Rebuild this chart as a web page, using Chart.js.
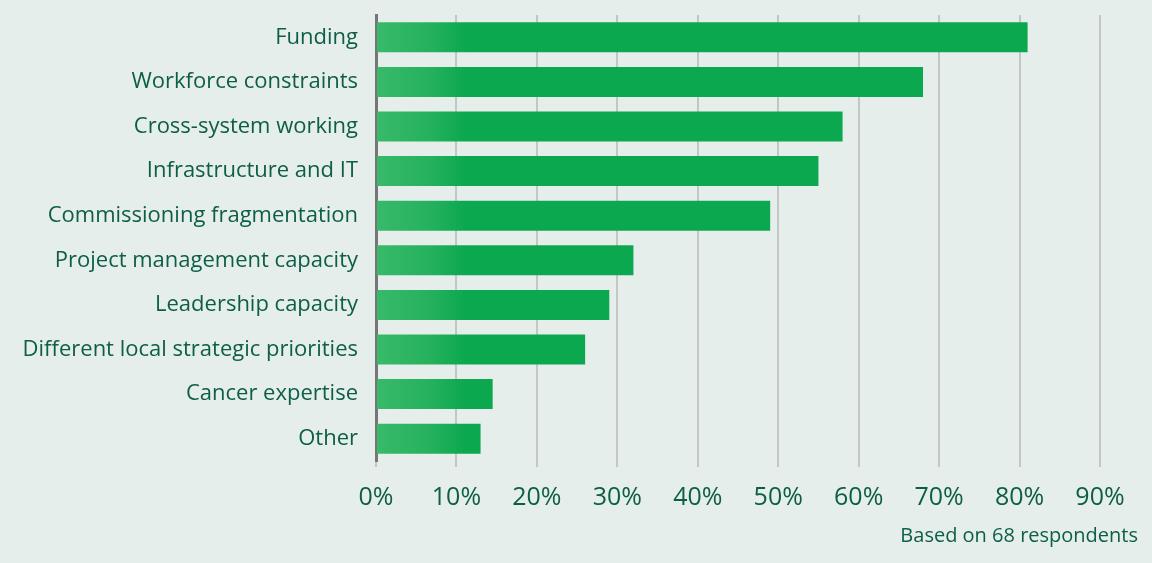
<!DOCTYPE html>
<html>
<head>
<meta charset="utf-8">
<script src="https://cdn.jsdelivr.net/npm/chart.js@4"></script>
<style>
  html, body { margin: 0; padding: 0; background: #e6eeeb; }
  #wrap { width: 1152px; height: 563px; position: relative; }
</style>
</head>
<body>
<div id="wrap"><canvas id="barriers"></canvas></div>
<script>
const categories = [
  'Funding',
  'Workforce constraints',
  'Cross-system working',
  'Infrastructure and IT',
  'Commissioning fragmentation',
  'Project management capacity',
  'Leadership capacity',
  'Different local strategic priorities',
  'Cancer expertise',
  'Other',
];
const shares = [81, 68, 58, 55, 49, 32, 29, 26, 14.5, 13];
const tickValues = [0, 10, 20, 30, 40, 50, 60, 70, 80, 90];
const footnote = 'Based on 68 respondents';

const textColor = '#0d5e47';
const fontFamily = '"Open Sans", Lato, sans-serif';

// slightly lighter, washed-out start of each bar
const barFill = (c) => {
  const area = c.chart.chartArea;
  if (!area) return '#0ba84f';
  const g = c.chart.ctx.createLinearGradient(area.left, 0, area.left + 90, 0);
  g.addColorStop(0, '#38ba69');
  g.addColorStop(0.6, '#25b15e');
  g.addColorStop(1, '#0ba84f');
  return g;
};

// footnote in the bottom right corner
const footnotePlugin = {
  id: 'footnote',
  afterDraw(chart) {
    const ctx = chart.ctx;
    ctx.save();
    ctx.font = '20px ' + fontFamily;
    ctx.fillStyle = textColor;
    ctx.textAlign = 'right';
    ctx.textBaseline = 'middle';
    ctx.fillText(footnote, chart.width - 14, chart.height - 27);
    ctx.restore();
  },
};

new Chart(document.getElementById('barriers'), {
  type: 'bar',
  data: {
    labels: categories,
    datasets: [{
      data: shares,
      backgroundColor: barFill,
      borderWidth: 0,
      barPercentage: 0.673,
      categoryPercentage: 1,
    }],
  },
  options: {
    indexAxis: 'y',
    responsive: true,
    maintainAspectRatio: false,
    animation: false,
    layout: { padding: { top: 15, right: 52, bottom: 34, left: 0 } },
    plugins: {
      legend: { display: false },
      tooltip: { enabled: false },
    },
    scales: {
      x: {
        min: 0,
        max: 90,
        afterBuildTicks: (axis) => { axis.ticks = tickValues.map((v) => ({ value: v })); },
        ticks: {
          callback: (v) => v + '%',
          color: textColor,
          font: { family: fontFamily, size: 25, weight: 500 },
          padding: 16,
        },
        grid: {
          color: '#c4c6c5',
          lineWidth: 2,
          drawTicks: true,
          tickLength: 6,
        },
        border: { display: false },
      },
      y: {
        afterFit: (axis) => {
          axis.width = 376;
          axis.paddingTop = 0;
          axis.paddingBottom = 0;
        },
        ticks: {
          color: textColor,
          font: { family: fontFamily, size: 22, weight: 500 },
          padding: 18,
        },
        grid: { display: false, drawTicks: false },
        border: { display: true, color: '#767676', width: 3 },
      },
    },
  },
  plugins: [footnotePlugin],
});
</script>
</body>
</html>
